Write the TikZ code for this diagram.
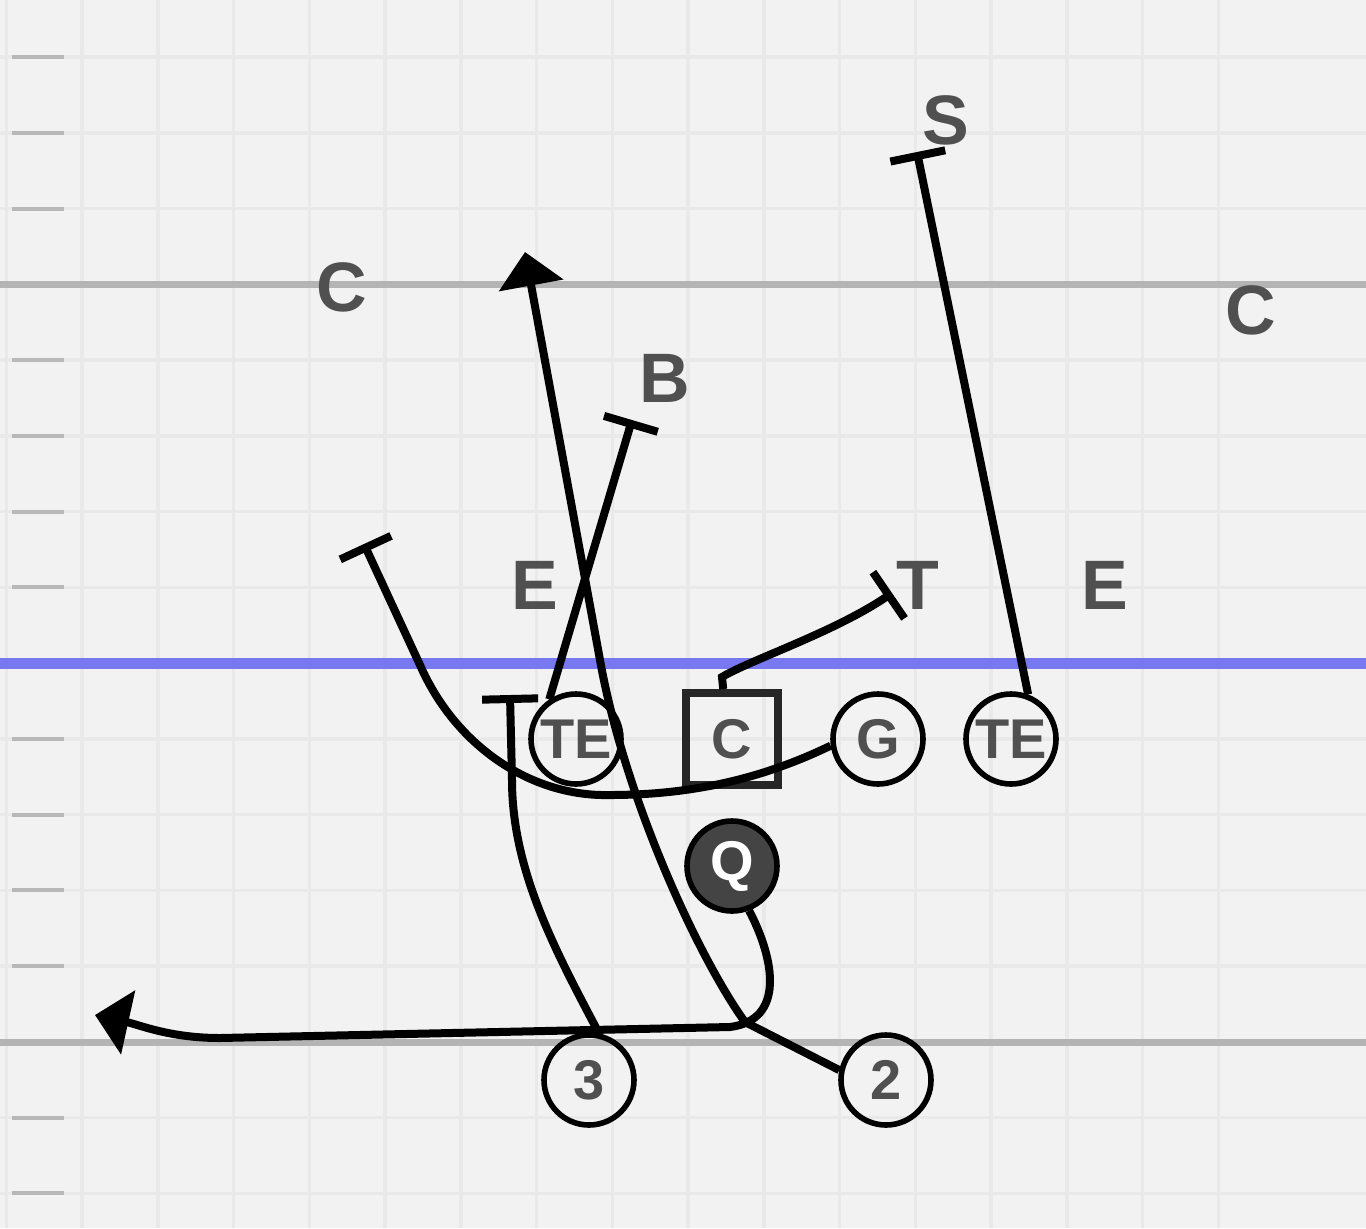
\documentclass[tikz,border=0pt]{standalone}
\usepackage{fontspec}
\setmainfont{Liberation Sans}
\usetikzlibrary{arrows.meta}
\definecolor{fieldbg}{HTML}{F2F2F2}
\definecolor{gridgray}{HTML}{E9E9E9}
\definecolor{hashgray}{HTML}{B8B8B8}
\definecolor{linegray}{HTML}{B4B4B4}
\definecolor{scrimblue}{HTML}{7878F0}
\definecolor{txtgray}{HTML}{505050}
\definecolor{qbgray}{HTML}{444444}

\begin{document}
\begin{tikzpicture}[x=0.5pt,y=-0.5pt,
    every node/.style={font=\fontsize{28}{28}\selectfont\bfseries,text=txtgray},
    player/.style={circle,draw=black,line width=2.8pt,minimum size=45pt,inner sep=0pt},
    center/.style={draw=black!85,line width=4pt,minimum size=46pt,inner sep=0pt},
    defl/.style={font=\fontsize{35}{35}\selectfont\bfseries},
    route/.style={draw=black,line width=4pt},
    block/.style={route,-{Bar[width=28pt]}},
    run/.style={route,-{Triangle[length=17pt,width=32pt]}}]
  \useasboundingbox (0,0) rectangle (1366,1228);
  \fill[fieldbg] (0,0) rectangle (1366,1228);
  \foreach \i in {0,...,16}
    \draw[gridgray,line width=1.75pt] ({6.25+75.75*\i},0) -- ++(0,1228);
  \foreach \j in {0,...,15}
    \draw[gridgray,line width=1.75pt] (0,{57+75.75*\j}) -- ++(1366,0);
  \foreach \j in {0,...,15}
    \draw[hashgray,line width=2pt] (12,{57+75.75*\j}) -- (64,{57+75.75*\j});
  \draw[linegray,line width=3.5pt] (0,284) -- (1366,284) (0,1042) -- (1366,1042);
  \draw[scrimblue,line width=5.5pt] (0,663) -- (1366,663);

  \node[defl] (cl) at (342,287) {C};
  \node[defl] (cr) at (1251,310) {C};
  \node[defl] (ss) at (946,120) {S};
  \node[defl] (bb) at (665,378) {B};
  \node[defl] (el) at (535,585) {E};
  \node[defl] (tt) at (918,585) {T};
  \node[defl] (er) at (1105,585) {E};

  \node[player] (tel) at (576,739) {TE};
  \node[center] (ctr) at (732,739) {C};
  \node[player] (gd) at (878,739) {G};
  \node[player] (ter) at (1011,739) {TE};
  \node[player,fill=qbgray,text=white] (qb) at (732,866) {Q};
  \node[player] (b3) at (589,1080) {3};
  \node[player] (b2) at (886,1080) {2};

  \coordinate (telend) at (632,420);
  \coordinate (terend) at (917,152);
  \coordinate (ctrend) at (892,593);
  \coordinate (gdend) at (364,544);
  \coordinate (b3end) at (510,695);
  \coordinate (b2end) at (525,252);
  \coordinate (qbend) at (95,1015);

  \draw[block] (tel.124) -- (telend);
  \draw[block] (ter.69) -- (terend);
  \draw[block] (ctr.100) -- (722,677) .. controls (750,660) and (835,632) .. (ctrend);
  \draw[block] (gd.188) .. controls (770,775) and (700,795) .. (610,795)
    .. controls (530,797) and (455,745) .. (420,665) -- (gdend);
  \draw[block] (b3.78) .. controls (555,950) and (512,870) .. (512,780) -- (b3end);
  \draw[run] (b2.168) -- (745,1022) .. controls (700,960) and (625,800) .. (600,660) -- (b2end);
  \draw[run] (qb.291) .. controls (775,960) and (785,1020) .. (730,1027) -- (220,1038)
    .. controls (170,1038) and (140,1025) .. (qbend);
\end{tikzpicture}
\end{document}
